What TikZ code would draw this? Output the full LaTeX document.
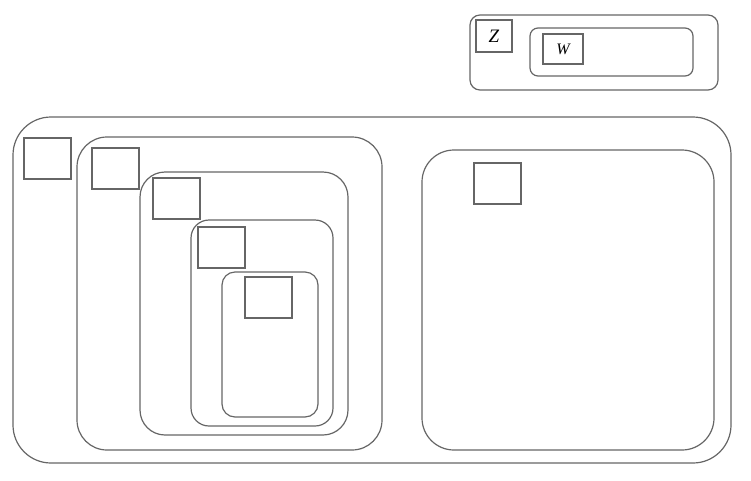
\documentclass[tikz,border=0pt]{standalone}
\usepackage{amsmath,amssymb}
\usepackage{fontspec}
\setmainfont{Liberation Serif}
\usepackage{tikz}

\begin{document}
\begin{tikzpicture}[x=1pt,y=-1pt,
	box/.style={draw=black!60,line width=1.2pt,inner sep=0pt,outer sep=0pt,anchor=north west},
	rbox/.style={box,rounded corners=#1},
	sq/.style={box,minimum width=47pt,minimum height=41pt}]
	\useasboundingbox (0,0) rectangle (751,480);
	% top group
	\node[rbox=10pt,minimum width=248pt,minimum height=75pt] (T) at (470,15) {};
	\node[box,minimum width=36pt,minimum height=32pt,font=\fontsize{19}{19}\selectfont\itshape] (Z) at (476,20) {Z};
	\node[rbox=8pt,minimum width=163pt,minimum height=48pt] (T') at (530,28) {};
	\node[box,minimum width=40pt,minimum height=30pt,font=\fontsize{16}{16}\selectfont\itshape] (W) at (543,34) {W};
	%
	% big frame
	\node[rbox=38pt,minimum width=718pt,minimum height=346pt] (A) at (13,117) {};
	\node[sq] (a) at (24,138) {};
	% nested boxes on the left
	\node[rbox=30pt,minimum width=305pt,minimum height=313pt] (B) at (77,137) {};
	\node[sq] (b) at (92,148) {};
	\node[rbox=25pt,minimum width=208pt,minimum height=263pt] (C) at (140,172) {};
	\node[sq] (c) at (153,178) {};
	\node[rbox=18pt,minimum width=142pt,minimum height=206pt] (D) at (191,220) {};
	\node[sq] (d) at (198,227) {};
	\node[rbox=13pt,minimum width=96pt,minimum height=145pt] (E) at (222,272) {};
	\node[sq] (e) at (245,277) {};
	% right box
	\node[rbox=32pt,minimum width=292pt,minimum height=300pt] (R) at (422,150) {};
	\node[sq] (r) at (474,163) {};
\end{tikzpicture}
\end{document}
